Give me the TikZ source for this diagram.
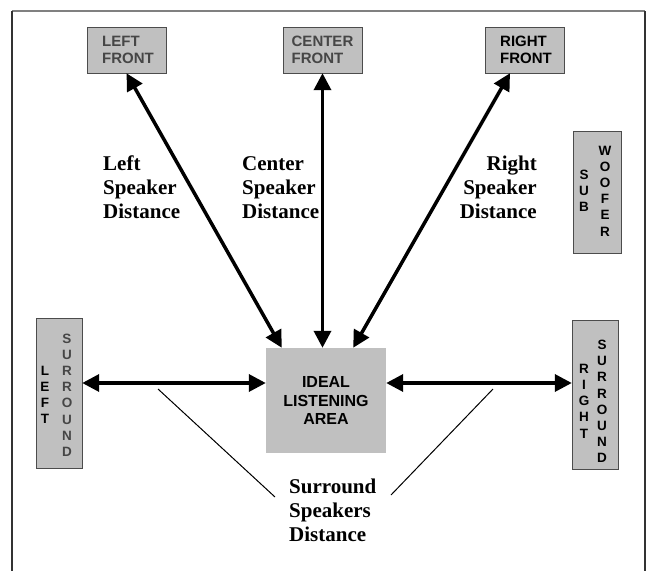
\documentclass[tikz,border=0pt]{standalone}
\usepackage{fontspec}
\setmainfont{Liberation Serif}
\setsansfont{Liberation Sans}
\usetikzlibrary{arrows.meta}
\definecolor{boxgray}{RGB}{192,192,192}
\definecolor{textgray}{RGB}{70,70,70}
\tikzstyle{speaker}=[draw=black!70,fill=boxgray,inner sep=0pt]
\tikzstyle{frontspeaker}=[speaker,minimum width=79pt,minimum height=46pt,align=left,font=\sffamily\bfseries\fontsize{15}{17}\selectfont]
\tikzstyle{column}=[inner sep=0pt,align=center,font=\sffamily\bfseries\fontsize{13.5}{16.2}\selectfont]
\tikzstyle{mainedge}=[{Triangle[length=17pt,width=17pt]}-{Triangle[length=17pt,width=17pt]},line width=3.5pt]
\tikzstyle{lightedge}=[line width=1pt]
\tikzstyle{distlabel}=[inner sep=0pt,font=\bfseries\fontsize{21}{24}\selectfont]

\begin{document}
\begin{tikzpicture}[x=1pt,y=-1pt]
\useasboundingbox (0,0) rectangle (649,571);
% frame
\draw[gray,line width=1.5pt] (12,11) -- (645,11);
\draw[black!80,line width=1.5pt] (12,11) -- (12,571);
\draw[black!80,line width=1.5pt] (645,11) -- (645,571);
% front speakers
\node[frontspeaker,text=textgray] (lf) at (126.5,50) {\hspace*{3pt}LEFT\\\hspace*{3pt}FRONT};
\node[frontspeaker,text=textgray] (cf) at (322.5,50) {CENTER\\FRONT};
\node[frontspeaker] (rf) at (524.5,50) {\hspace*{3pt}RIGHT\\\hspace*{3pt}FRONT};
% sub woofer
\node[speaker,minimum width=48pt,minimum height=122pt] (sw) at (597,192) {};
\node[column] (sub) at (584,191) {S\\U\\B};
\node[column] (woofer) at (605,191) {W\\O\\O\\F\\E\\R};
% surround speakers
\node[speaker,minimum width=46pt,minimum height=150pt] (ls) at (59,393) {};
\node[column] (lsl) at (45,395) {L\\E\\F\\T};
\node[column,text=textgray] (lss) at (67,395) {S\\U\\R\\R\\O\\U\\N\\D};
\node[speaker,minimum width=46pt,minimum height=149pt] (rs) at (595,394.5) {};
\node[column] (rsr) at (584,401) {R\\I\\G\\H\\T};
\node[column] (rss) at (602,401.5) {S\\U\\R\\R\\O\\U\\N\\D};
% listening area
\node[fill=boxgray,minimum width=120pt,minimum height=105pt,align=center,font=\sffamily\bfseries\fontsize{16}{18.5}\selectfont] (ideal) at (326,400.5) {IDEAL\\LISTENING\\AREA};
% distance arrows
\draw[mainedge] (lf.south) -- ([xshift=16pt]ideal.north west);
\draw[mainedge] (cf.south) -- (cf.south |- ideal.north);
\draw[mainedge] ([xshift=-14.5pt]rf.south) -- ([xshift=-33pt]ideal.north east);
\coordinate (hline) at (0,383);
\draw[mainedge] (ls.east |- hline) -- (ideal.west |- hline);
\draw[mainedge] (ideal.east |- hline) -- (rs.west |- hline);
% labels
\node[distlabel,anchor=north west,align=left] (lsd) at (103,156) {Left\\Speaker\\Distance};
\node[distlabel,anchor=north west,align=left] (csd) at (242,156) {Center\\Speaker\\Distance};
\node[distlabel,anchor=north east,align=right] (rsd) at (537,156) {Right\\Speaker\\Distance};
\node[distlabel,anchor=north west,align=left] (ssd) at (289,479) {Surround\\Speakers\\Distance};
% pointer lines
\coordinate (sl1) at (158,389);
\coordinate (sl2) at (275,497);
\draw[lightedge] (sl1) -- (sl2);
\coordinate (sr1) at (493,389);
\coordinate (sr2) at (391,495);
\draw[lightedge] (sr1) -- (sr2);
\end{tikzpicture}
\end{document}
